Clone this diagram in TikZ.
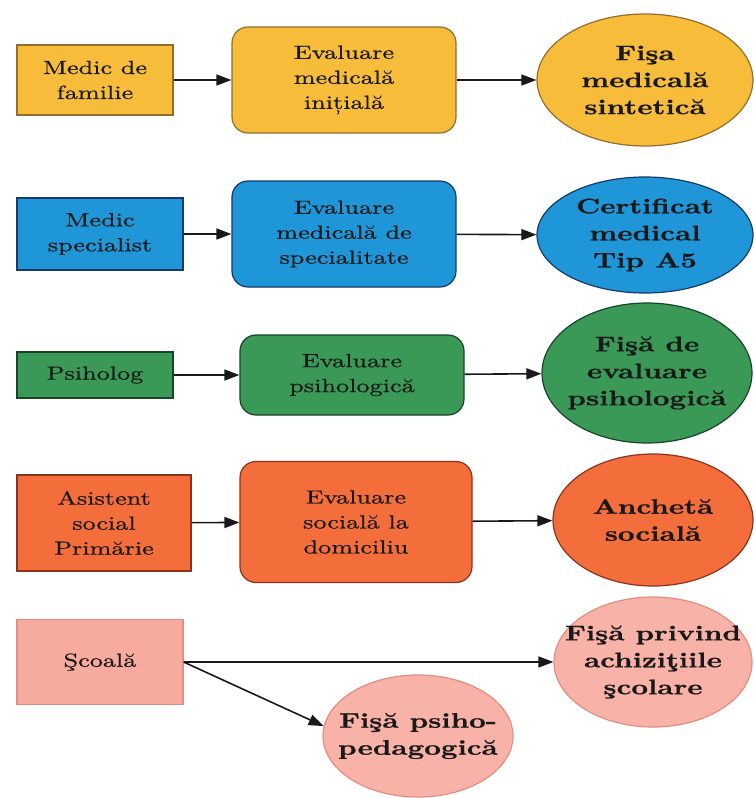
\documentclass[tikz,border=0pt]{standalone}
\usepackage{fontspec}
\usepackage{tikz}
\usetikzlibrary{arrows.meta}
\usetikzlibrary{shapes.geometric}
\newfontfamily\boxfont{lmroman10-regular.otf}[FakeStretch=1.38, FakeBold=0.7, BoldFont=lmroman10-bold.otf]

\definecolor{yelfill}{RGB}{247,189,58}
\definecolor{yelline}{RGB}{150,108,45}
\definecolor{bluefill}{RGB}{30,150,216}
\definecolor{blueline}{RGB}{22,58,105}
\definecolor{greenfill}{RGB}{58,153,86}
\definecolor{greenline}{RGB}{22,70,40}
\definecolor{orfill}{RGB}{244,110,60}
\definecolor{orline}{RGB}{140,50,30}
\definecolor{pinkfill}{RGB}{247,170,158}
\definecolor{pinkline}{RGB}{228,140,128}

\begin{document}
\begin{tikzpicture}[x=1pt, y=-1pt,
  src/.style={rectangle, draw, line width=1.2pt, inner sep=0pt, align=center,
    text=black!90, font=\boxfont\fontsize{19}{25}\selectfont},
  eval/.style={src, rounded corners=16pt},
  doc/.style={ellipse, draw, line width=1.2pt, inner xsep=-80pt, inner ysep=-40pt, align=center,
    text=black!90, font=\boxfont\bfseries\fontsize{21}{27}\selectfont},
  arr/.style={line width=1.6pt, black!90, -{Triangle[length=15pt,width=11pt]}}]
\useasboundingbox (0,0) rectangle (753,798);
\coordinate (a) at (95,80);
\coordinate (b) at (344,80);
\coordinate (c) at (645,80);
\coordinate (d) at (100,234);
\coordinate (e) at (344,234);
\coordinate (f) at (645,235);
\coordinate (g) at (95,375);
\coordinate (h) at (352,375);
\coordinate (i) at (647,373);
\coordinate (j) at (104,523);
\coordinate (k) at (356,522);
\coordinate (l) at (653,520);
\coordinate (m) at (100,662);
\coordinate (n) at (653,662);
\coordinate (o) at (418,736);
% draws row 1
\node[src, fill=yelfill, draw=yelline, minimum width=156, minimum height=70] (medfam) at (a) {Medic de\\familie};
\node[eval, fill=yelfill, draw=yelline, minimum width=224, minimum height=106] (evmed) at (b) {Evaluare\\medicală\\inițială};
\node[doc, fill=yelfill, draw=yelline, minimum width=216, minimum height=132] (fisamed) at (c) {Fişa\\medicală\\sintetică};
% draws row 2
\node[src, fill=bluefill, draw=blueline, minimum width=166, minimum height=72] (medspec) at (d) {Medic\\specialist};
\node[eval, fill=bluefill, draw=blueline, minimum width=224, minimum height=106] (evspec) at (e) {Evaluare\\medicală de\\specialitate};
\node[doc, fill=bluefill, draw=blueline, minimum width=216, minimum height=116] (certif) at (f) {Certificat\\medical\\Tip A5};
% draws row 3
\node[src, fill=greenfill, draw=greenline, minimum width=156, minimum height=46] (psih) at (g) {Psiholog};
\node[eval, fill=greenfill, draw=greenline, minimum width=224, minimum height=80] (evpsih) at (h) {Evaluare\\psihologică};
\node[doc, fill=greenfill, draw=greenline, minimum width=210, minimum height=140] (fisapsih) at (i) {Fişă de\\evaluare\\psihologică};
% draws row 4
\node[src, fill=orfill, draw=orline, minimum width=174, minimum height=96] (asist) at (j) {Asistent\\social\\Primărie};
\node[eval, fill=orfill, draw=orline, minimum width=232, minimum height=121] (evsoc) at (k) {Evaluare\\socială la\\domiciliu};
\node[doc, fill=orfill, draw=orline, minimum width=200, minimum height=132] (ancheta) at (l) {Anchetă\\socială};
% draws row 5
\node[src, fill=pinkfill, draw=pinkline, minimum width=166, minimum height=85] (scoala) at (m) {Şcoală};
\node[doc, fill=pinkfill!90, draw=pinkline, minimum width=198, minimum height=130] (fisaachiz) at (n) {Fişă privind\\achiziţiile\\şcolare};
\node[doc, fill=pinkfill!90, draw=pinkline, minimum width=190, minimum height=122] (fisaped) at (o) {Fişă psiho-\\pedagogică};
% draws arrows
\draw[arr] (medfam) -- (evmed);
\draw[arr] (evmed) -- (fisamed);
\draw[arr] (medspec) -- (evspec);
\draw[arr] (evspec) -- (certif);
\draw[arr] (psih) -- (evpsih);
\draw[arr] (evpsih) -- (fisapsih);
\draw[arr] (asist) -- (evsoc);
\draw[arr] (evsoc) -- (ancheta);
\draw[arr] (scoala.east) -- (fisaachiz);
\draw[arr] (scoala.east) -- (fisaped.174);
\end{tikzpicture}
\end{document}
